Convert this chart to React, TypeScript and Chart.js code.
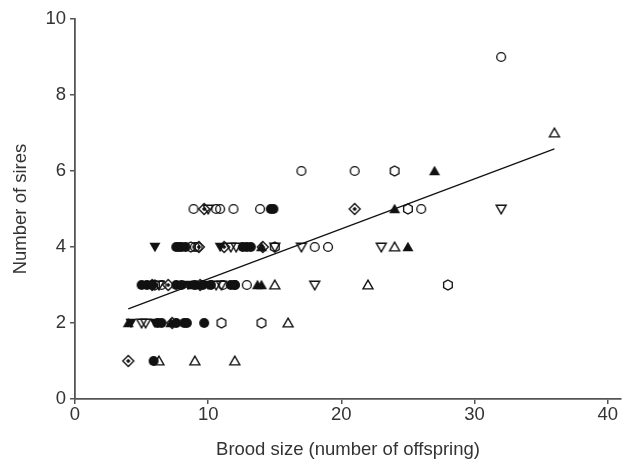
import React, { useEffect, useRef } from 'react';
import { Chart, registerables } from 'chart.js';

Chart.register(...registerables);

// ---- data ----
const openCircleX = [32, 17, 21, 8.9, 10.6, 10.9, 11.9, 13.9, 26, 9.0, 9.2, 18, 19, 6.5, 11.1, 12.0, 12.9];
const openCircleY = [9, 6, 6, 5, 5, 5, 5, 5, 5, 4, 4, 4, 4, 3, 3, 3, 3];

const filledCircleX = [14.7, 14.9, 7.6, 7.8, 8.0, 8.3, 12.6, 12.9, 13.2, 5.0, 5.4, 5.8, 7.6, 8.0, 9.0, 9.6, 10.2, 11.7, 12.0, 6.2, 6.5, 7.6, 8.2, 8.4, 9.7, 5.9];
const filledCircleY = [5, 5, 4, 4, 4, 4, 4, 4, 4, 3, 3, 3, 3, 3, 3, 3, 3, 3, 3, 2, 2, 2, 2, 2, 2, 1];

const openTriX = [36, 24, 15, 22, 16, 6.3, 9, 12];
const openTriY = [7, 4, 3, 3, 2, 1, 1, 1];

const filledTriX = [27, 24, 14, 25, 13.7, 14, 8.8, 9.2, 4.0, 7.2];
const filledTriY = [6, 5, 4, 4, 3, 3, 3, 3, 2, 2];

const openInvTriX = [10.0, 32, 11.7, 12.1, 15, 17, 23, 6.3, 10.6, 11.0, 18, 5.0, 5.3];
const openInvTriY = [5, 5, 4, 4, 4, 4, 4, 3, 3, 3, 3, 2, 2];

const filledInvTriX = [6, 10.9, 10.0, 8.5, 4.2, 6.0];
const filledInvTriY = [4, 4, 3, 3, 2, 2];

const hexX = [24, 25, 8.7, 15, 6.0, 28, 11, 14];
const hexY = [6, 5, 4, 4, 3, 3, 2, 2];

const diamondX = [9.7, 21, 9.3, 11.2, 14.1, 5.8, 7.0, 9.4, 7.3, 4];
const diamondY = [5, 5, 4, 4, 4, 3, 3, 3, 2, 1];

const fitX = [4, 36];
const fitY = [2.37, 6.58];

const xTicks = [0, 10, 20, 30, 40];
const yTicks = [0, 2, 4, 6, 8, 10];

const xTitle = 'Brood size (number of offspring)';
const yTitle = 'Number of sires';

const INK = '#111';

function makeMarker(kind: string): HTMLCanvasElement {
  const s = 16;
  const c = document.createElement('canvas');
  c.width = s;
  c.height = s;
  const ctx = c.getContext('2d')!;
  ctx.translate(s / 2, s / 2);
  ctx.lineWidth = 1.35;
  ctx.strokeStyle = INK;
  ctx.fillStyle = INK;
  ctx.beginPath();
  switch (kind) {
    case 'openCircle':
      ctx.arc(0, 0, 4.4, 0, Math.PI * 2);
      ctx.stroke();
      break;
    case 'filledCircle':
      ctx.arc(0, 0, 5, 0, Math.PI * 2);
      ctx.fill();
      break;
    case 'openTri':
      ctx.moveTo(0, -4.8);
      ctx.lineTo(5, 3.8);
      ctx.lineTo(-5, 3.8);
      ctx.closePath();
      ctx.stroke();
      break;
    case 'filledTri':
      ctx.moveTo(0, -5.2);
      ctx.lineTo(5.5, 4.2);
      ctx.lineTo(-5.5, 4.2);
      ctx.closePath();
      ctx.fill();
      break;
    case 'openInvTri':
      ctx.moveTo(0, 4.8);
      ctx.lineTo(5, -3.8);
      ctx.lineTo(-5, -3.8);
      ctx.closePath();
      ctx.stroke();
      break;
    case 'filledInvTri':
      ctx.moveTo(0, 5.2);
      ctx.lineTo(5.5, -4.2);
      ctx.lineTo(-5.5, -4.2);
      ctx.closePath();
      ctx.fill();
      break;
    case 'hex': {
      const r = 5;
      for (let i = 0; i < 6; i++) {
        const a = -Math.PI / 2 + (i * Math.PI) / 3;
        const px = r * Math.cos(a);
        const py = r * Math.sin(a);
        if (i === 0) ctx.moveTo(px, py);
        else ctx.lineTo(px, py);
      }
      ctx.closePath();
      ctx.stroke();
      break;
    }
    case 'diamond':
      ctx.moveTo(0, -5.5);
      ctx.lineTo(5.5, 0);
      ctx.lineTo(0, 5.5);
      ctx.lineTo(-5.5, 0);
      ctx.closePath();
      ctx.stroke();
      ctx.beginPath();
      ctx.moveTo(0, -2.2);
      ctx.lineTo(2.2, 0);
      ctx.lineTo(0, 2.2);
      ctx.lineTo(-2.2, 0);
      ctx.closePath();
      ctx.fill();
      break;
  }
  return c;
}

function pts(xs: number[], ys: number[]) {
  return xs.map((x, i) => ({ x, y: ys[i] }));
}

export default function App() {
  const ref = useRef<HTMLCanvasElement | null>(null);

  useEffect(() => {
    const canvas = ref.current;
    if (!canvas) return;

    const series: [string, number[], number[]][] = [
      ['openCircle', openCircleX, openCircleY],
      ['filledCircle', filledCircleX, filledCircleY],
      ['openTri', openTriX, openTriY],
      ['filledTri', filledTriX, filledTriY],
      ['openInvTri', openInvTriX, openInvTriY],
      ['filledInvTri', filledInvTriX, filledInvTriY],
      ['hex', hexX, hexY],
      ['diamond', diamondX, diamondY],
    ];

    const datasets: any[] = series.map(([kind, xs, ys]) => ({
      label: kind,
      data: pts(xs, ys),
      pointStyle: makeMarker(kind),
      pointRadius: 5,
      showLine: false,
      backgroundColor: INK,
      borderColor: INK,
    }));

    datasets.push({
      label: 'fit',
      data: pts(fitX, fitY),
      showLine: true,
      pointRadius: 0,
      borderColor: INK,
      borderWidth: 1.3,
      fill: false,
    });

    const axisColor = '#555';
    const font = { family: "'Liberation Sans', Arial, sans-serif", size: 18.5 };

    const chart = new Chart(canvas, {
      type: 'scatter',
      data: { datasets },
      options: {
        animation: false,
        responsive: false,
        maintainAspectRatio: false,
        layout: { autoPadding: false, padding: { top: 19, right: 1, left: 0, bottom: 0 } },
        plugins: {
          legend: { display: false },
          tooltip: { enabled: false },
        },
        scales: {
          x: {
            type: 'linear',
            min: 0,
            max: 41,
            afterBuildTicks: (scale: any) => {
              scale.ticks = xTicks.map((v) => ({ value: v }));
            },
            afterFit: (scale: any) => {
              scale.height = 65;
              scale.paddingRight = 0;
              scale.paddingLeft = 0;
            },
            grid: {
              display: true,
              drawOnChartArea: false,
              drawTicks: true,
              tickLength: 5,
              color: axisColor,
              lineWidth: 1.5,
            },
            border: { display: true, color: axisColor, width: 1.8 },
            ticks: { color: '#333', font, padding: 0, maxRotation: 0 },
            title: {
              display: true,
              text: xTitle,
              color: '#333',
              font,
              padding: { top: 0, bottom: 3 },
            },
          },
          y: {
            type: 'linear',
            min: 0,
            max: 10,
            afterBuildTicks: (scale: any) => {
              scale.ticks = yTicks.map((v) => ({ value: v }));
            },
            afterFit: (scale: any) => {
              scale.width = 75;
              scale.paddingTop = 0;
              scale.paddingBottom = 0;
            },
            grid: {
              display: true,
              drawOnChartArea: false,
              drawTicks: true,
              tickLength: 5,
              color: axisColor,
              lineWidth: 1.5,
            },
            border: { display: true, color: axisColor, width: 1.8 },
            ticks: { color: '#333', font, padding: 4 },
            title: {
              display: true,
              text: yTitle,
              color: '#333',
              font,
              padding: { top: 10, bottom: 0 },
            },
          },
        },
      },
    });

    return () => chart.destroy();
  }, []);

  return (
    <div style={{ position: 'fixed', left: 0, top: 0, width: 622, height: 464, background: '#fff' }}>
      <canvas ref={ref} width={622} height={464} style={{ width: 622, height: 464, display: 'block' }} />
    </div>
  );
}
